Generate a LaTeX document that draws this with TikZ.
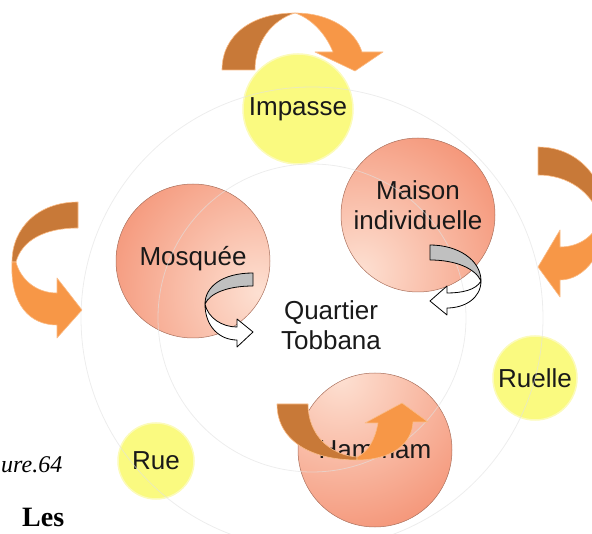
\documentclass[tikz,border=0pt]{standalone}
\usepackage{fontspec}
\setmainfont{Liberation Sans}
\newfontfamily\serifface{Liberation Serif}
\usetikzlibrary{calc}
\definecolor{salmondark}{RGB}{244,146,116}
\definecolor{salmonlight}{RGB}{253,224,210}
\definecolor{salmonline}{RGB}{170,112,92}
\definecolor{lemon}{RGB}{250,250,128}
\definecolor{lemonrim}{RGB}{252,251,185}
\definecolor{rustorange}{RGB}{200,121,56}
\definecolor{paleorange}{RGB}{247,151,71}
\definecolor{orangerim}{RGB}{250,188,135}
\definecolor{ringgray}{RGB}{225,225,225}
\definecolor{arrowgray}{RGB}{192,192,192}
\tikzset{
	tagtext/.style={font=\fontsize{26}{30}\selectfont,text=black!90,align=center},
	bigdisc/.style={tagtext,circle,minimum size=154pt,inner sep=0pt,draw=salmonline,line width=0.5pt,
		path picture={\shade[inner color=salmonlight,outer color=salmondark] ($(path picture bounding box.center)!0.55!(hub)$) circle (170pt);}},
	smalldisc/.style={tagtext,circle,inner sep=0pt,fill=lemon,draw=lemonrim,line width=1.5pt},
	faintring/.style={draw=ringgray,line width=0.8pt,opacity=0.6},
	backpart/.style={fill=rustorange,draw=orangerim,line width=0.6pt,line join=round},
	frontpart/.style={fill=paleorange,draw=orangerim,line width=0.6pt,line join=round},
	greypart/.style={fill=arrowgray,draw=black,line width=0.8pt,line join=round},
	whitepart/.style={fill=white,draw=black,line width=0.8pt,line join=round}
}
\begin{document}
\begin{tikzpicture}[x=1pt,y=-1pt]
	\useasboundingbox (0,0) rectangle (592,534);
	\clip (0,0) rectangle (592,534);
	\coordinate (hub) at (312,318);

	\node[smalldisc,minimum size=110pt] (impasse) at (298,109) {Impasse};
	\node[smalldisc,minimum size=84pt] (ruelle) at (535,378) {Ruelle};
	\node[smalldisc,minimum size=76pt] (rue) at (156,461) {Rue};
	\node[bigdisc,text depth=20pt] (maison) at (418,215) {Maison\\individuelle};
	\node[bigdisc,text depth=11pt] (mosquee) at (193,261) {Mosquée};
	\node[bigdisc] (hammam) at (375,450) {Hammam};
	\node[tagtext] (quartier) at (331,325) {Quartier\\Tobbana};

	\draw[faintring] (hub) circle (154pt);
	\draw[faintring] (hub) circle (231pt);

	\draw[backpart] (222,70) .. controls (222,35) and (252,13) .. (295,13) .. controls (272,20) and (255,42) .. (255,70) -- cycle;
	\draw[frontpart] (295,13) .. controls (330,13) and (355,30) .. (362,52) -- (383,52) -- (355,71) -- (315,52) -- (333,52) .. controls (325,32) and (310,18) .. (295,13) -- cycle;

	\draw[backpart] (78,202) .. controls (38,202) and (12,228) .. (12,262) -- (16,262) .. controls (22,240) and (45,228) .. (78,228) -- cycle;
	\draw[frontpart] (12,262) .. controls (10,305) and (30,325) .. (57,325) -- (57,338) -- (82,310) -- (57,278) -- (57,293) .. controls (35,293) and (20,278) .. (16,262) -- cycle;

	\draw[backpart] (538,147) .. controls (578,147) and (604,178) .. (606,215) -- (600,218) .. controls (592,192) and (568,175) .. (538,175) -- cycle;
	\draw[frontpart] (606,215) .. controls (606,252) and (585,280) .. (560,280) -- (560,297) -- (538,267) -- (560,230) -- (560,247) .. controls (580,247) and (596,235) .. (600,218) -- cycle;

	\draw[backpart] (277,404) .. controls (277,440) and (310,460) .. (357,460) -- (357,457) .. controls (330,455) and (308,435) .. (308,404) -- cycle;
	\draw[frontpart] (357,460) .. controls (390,460) and (412,445) .. (413,422) -- (428,422) -- (402,403) -- (365,423) -- (378,423) .. controls (375,440) and (368,452) .. (357,457) -- cycle;

	\draw[greypart] (253,273) .. controls (222,273) and (205,287) .. (205,304) .. controls (210,293) and (228,286) .. (253,286) -- cycle;
	\draw[whitepart] (205,304) .. controls (205,327) and (220,340) .. (237,340) -- (237,347) -- (253,332) -- (237,319) -- (237,327) .. controls (222,327) and (208,318) .. (205,304) -- cycle;

	\draw[greypart] (430,245) .. controls (458,245) and (481,260) .. (481,281) .. controls (475,268) and (455,260) .. (430,260) -- cycle;
	\draw[whitepart] (481,281) .. controls (481,298) and (465,308) .. (447,308) -- (447,315) -- (430,301) -- (447,286) -- (447,293) .. controls (462,293) and (476,290) .. (481,281) -- cycle;

	\node[anchor=base west,inner sep=0pt,font=\serifface\itshape\fontsize{24}{28}\selectfont] (figno) at (1,472) {ure.64};
	\node[anchor=base west,inner sep=0pt,font=\serifface\bfseries\fontsize{28}{32}\selectfont] (les) at (22,526) {Les};
\end{tikzpicture}
\end{document}
